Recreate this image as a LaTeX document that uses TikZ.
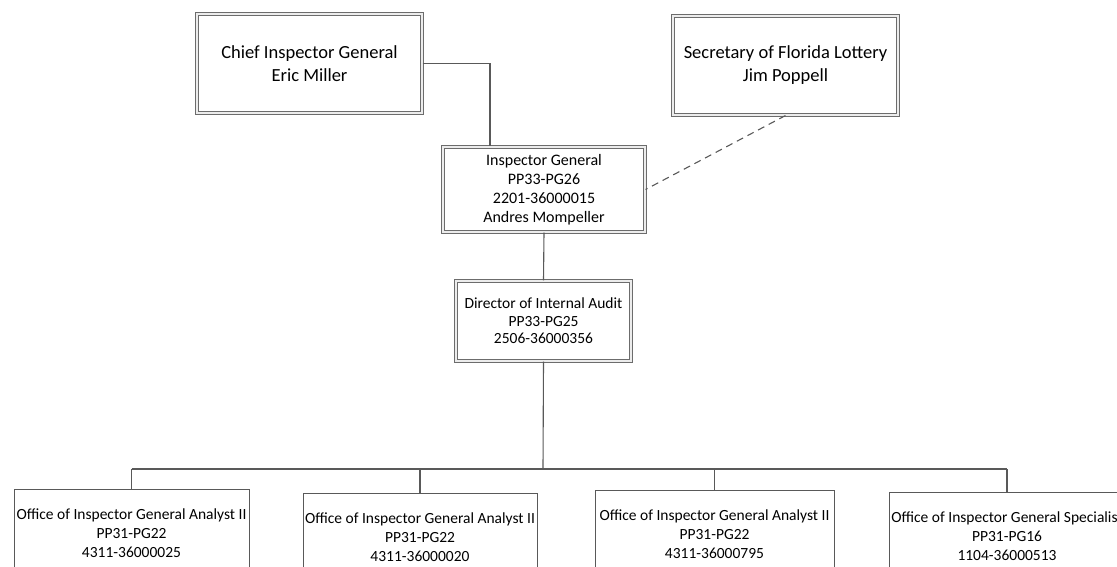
\documentclass[tikz,border=0pt]{standalone}
\usepackage{fontspec}
\setmainfont{Carlito}
\usepackage{xcolor}

\begin{document}
\begin{tikzpicture}[x=1pt,y=-1pt,
	topbox/.style={draw=gray!85!black,double=gray!15,double distance=1.4pt,line width=1.1pt,align=center,inner sep=0pt},
	ofcbox/.style={draw=gray!70!black,line width=1pt,align=center,inner sep=0pt,minimum width=236,minimum height=88,anchor=north,font=\fontsize{15.5}{19}\selectfont},
	link/.style={draw=gray!70!black,line width=1.1pt}]

\useasboundingbox (0,0) rectangle (1117,567);
\clip (0,0) rectangle (1117,567);

% Top level
\node[topbox,minimum width=225,minimum height=99,font=\fontsize{18.5}{23}\selectfont] (chief) at (309.5,63.5) {Chief Inspector General\\Eric Miller};
\node[topbox,minimum width=225,minimum height=99,font=\fontsize{18.5}{23}\selectfont] (sec) at (785.5,65.5) {Secretary of Florida Lottery\\Jim Poppell};

% Inspector General and audit
\node[topbox,minimum width=202,minimum height=85,font=\fontsize{16}{19}\selectfont] (ig) at (544,189.5) {Inspector General\\PP33-PG26\\2201-36000015\\Andres Mompeller};
\node[topbox,minimum width=175,minimum height=80,font=\fontsize{15.5}{17.5}\selectfont] (dir) at (543.5,321) {Director of Internal Audit\\PP33-PG25\\2506-36000356};

\draw[link] (chief.east) -| ([xshift=-54pt]ig.north);
\draw[link,dashed,dash pattern=on 7pt off 5pt] (sec.south) -- (ig.east);
\draw[link] (ig.south) -- (dir.north);

% Offices
\node[ofcbox,minimum width=235] (ofc1) at (131.5,489) {Office of Inspector General Analyst II\\PP31-PG22\\4311-36000025};
\node[ofcbox,minimum width=234] (ofc2) at (420,493) {Office of Inspector General Analyst II\\PP31-PG22\\4311-36000020};
\node[ofcbox,minimum width=239] (ofc3) at (714.5,490) {Office of Inspector General Analyst II\\PP31-PG22\\4311-36000795};
\node[ofcbox] (ofc4) at (1007,492) {Office of Inspector General Specialist\\PP31-PG16\\1104-36000513};

\coordinate (bus) at (543,469);
\draw[link] (dir.south) -- (bus);
\draw[link] (ofc1.north |- bus) -- (ofc4.north |- bus);
\foreach \ofc in {ofc1,ofc2,ofc3,ofc4}{
	\draw[link] (\ofc.north |- bus) -- (\ofc.north);
}

\end{tikzpicture}
\end{document}
